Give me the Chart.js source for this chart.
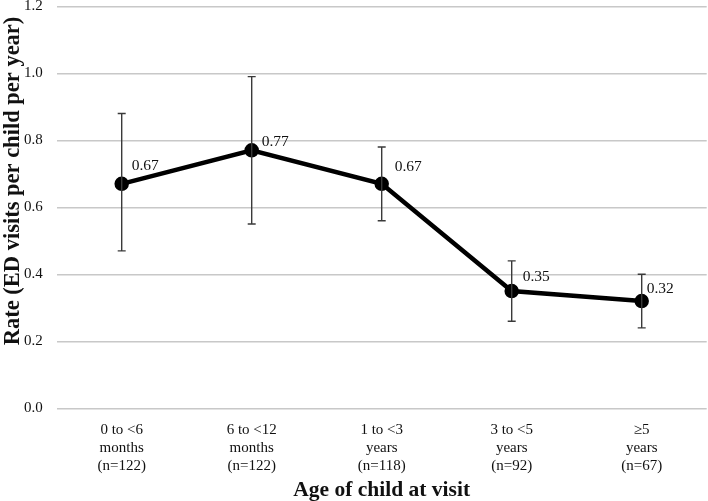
<!DOCTYPE html>
<html>
<head>
<meta charset="utf-8">
<script src="https://cdn.jsdelivr.net/npm/chart.js@4/dist/chart.umd.min.js"></script>
<style>
  html, body { margin: 0; padding: 0; background: #fff; overflow: hidden; }
  #wrap { width: 708px; height: 501px; }
  canvas { display: block; }
</style>
</head>
<body>
<div id="wrap"><canvas id="rateChart" width="708" height="501"></canvas></div>
<script>
// data
const ageGroups = [
    ["0 to <6", "months", "(n=122)"],
    ["6 to <12", "months", "(n=122)"],
    ["1 to <3", "years", "(n=118)"],
    ["3 to <5", "years", "(n=92)"],
    ["\u22655", "years", "(n=67)"]
];
const rates = [0.67, 0.77, 0.67, 0.35, 0.32];
const upperCI = [0.88, 0.99, 0.78, 0.44, 0.40];
const lowerCI = [0.47, 0.55, 0.56, 0.26, 0.24];
const yTicks = [0, 0.2, 0.4, 0.6, 0.8, 1.0, 1.2];
const yTitle = "Rate (ED visits per child per year)";

const serif = "'Liberation Serif', 'Times New Roman', serif";

// label nudges (dx, dy of text centre from the point)
const labelShift = [[10, -18], [10, -8], [13, -17], [11, -14], [5, -12]];

// error bars + value labels + y title (title sits a bit above centre in the original)
const errorBars = {
    id: "errorBars",
    afterDatasetsDraw(chart) {
        const ctx = chart.ctx;
        const meta = chart.getDatasetMeta(0);
        const y = chart.scales.y;
        ctx.save();
        ctx.strokeStyle = "#3a3a3a";
        ctx.lineWidth = 1.4;
        meta.data.forEach((pt, i) => {
            const yHi = y.getPixelForValue(upperCI[i]);
            const yLo = y.getPixelForValue(lowerCI[i]);
            ctx.beginPath();
            ctx.moveTo(pt.x, yHi); ctx.lineTo(pt.x, yLo);
            ctx.moveTo(pt.x - 4, yHi); ctx.lineTo(pt.x + 4, yHi);
            ctx.moveTo(pt.x - 4, yLo); ctx.lineTo(pt.x + 4, yLo);
            ctx.stroke();
        });
        ctx.fillStyle = "#111";
        ctx.font = "15.5px " + serif;
        ctx.textAlign = "left";
        ctx.textBaseline = "middle";
        meta.data.forEach((pt, i) => {
            ctx.fillText(rates[i].toFixed(2), pt.x + labelShift[i][0], pt.y + labelShift[i][1]);
        });
        ctx.restore();
    },
    afterDraw(chart) {
        const ctx = chart.ctx;
        ctx.save();
        ctx.translate(13, 181);
        ctx.rotate(-Math.PI / 2);
        ctx.fillStyle = "#111";
        ctx.font = "bold 22.5px " + serif;
        ctx.textAlign = "center";
        ctx.textBaseline = "middle";
        ctx.fillText(yTitle, 0, 0);
        ctx.restore();
    }
};

new Chart(document.getElementById("rateChart"), {
    type: "line",
    data: {
        labels: ageGroups,
        datasets: [{
            data: rates,
            borderColor: "#000",
            backgroundColor: "#000",
            borderWidth: 4.5,
            pointRadius: 5,
            pointBackgroundColor: "#000",
            tension: 0
        }]
    },
    options: {
        responsive: false,
        animation: false,
        layout: { autoPadding: false, padding: { left: 0, right: 1.3, top: 6.3, bottom: 0 } },
        plugins: { legend: { display: false }, tooltip: { enabled: false } },
        scales: {
            x: {
                offset: true,
                grid: { display: false, drawTicks: false },
                border: { display: false },
                ticks: { color: "#111", font: { family: serif, size: 15, lineHeight: 1.2 }, padding: 12.5, maxRotation: 0, autoSkip: false },
                title: { display: true, text: "Age of child at visit", color: "#111", font: { family: serif, size: 21.5, weight: "bold", lineHeight: 1 }, padding: { top: 0, bottom: 0 } },
                afterFit: (axis) => { axis.height = 92.7; axis.paddingLeft = 0; axis.paddingRight = 0; }
            },
            y: {
                min: 0,
                max: 1.2,
                afterBuildTicks: (axis) => { axis.ticks = yTicks.map(v => ({ value: v })); },
                grid: { color: "#c8c8c8", lineWidth: 1.5, drawTicks: false },
                border: { display: false },
                ticks: { color: "#111", font: { family: serif, size: 15 }, padding: 14, callback: v => v.toFixed(1) },
                afterFit: (axis) => { axis.width = 56.7; axis.paddingTop = 0; axis.paddingBottom = 0; }
            }
        }
    },
    plugins: [errorBars]
});
</script>
</body>
</html>
